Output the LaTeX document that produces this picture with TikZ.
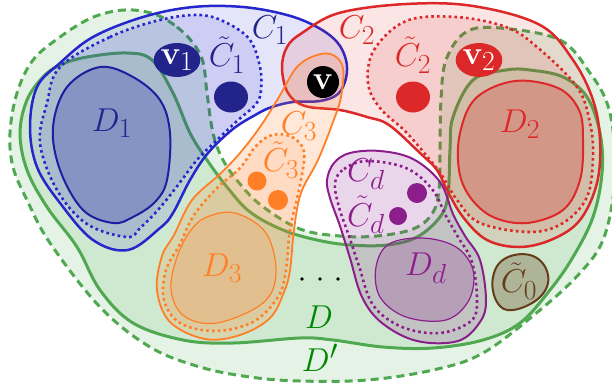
\documentclass[tikz,border=0pt]{standalone}
\usepackage{graphicx}
\usetikzlibrary{shapes.geometric}
\definecolor{gline}{RGB}{80,168,80}
\definecolor{gfill}{RGB}{76,175,80}
\definecolor{gtext}{RGB}{0,135,0}
\definecolor{cblue}{RGB}{38,38,205}
\definecolor{dblue}{RGB}{30,30,160}
\definecolor{navy}{RGB}{35,35,140}
\definecolor{cred}{RGB}{220,40,40}
\definecolor{corange}{RGB}{255,127,39}
\definecolor{cpurple}{RGB}{140,30,140}
\definecolor{cbrown}{RGB}{100,60,25}
\newcommand{\biglab}[1]{\scalebox{1.33}{\Huge$#1$}}
\tikzset{
  dprimestyle/.style={draw=gline, fill=gfill, fill opacity=0.15, line width=3pt, dash pattern=on 8pt off 5pt},
  dstyle/.style={draw=gline, fill=gfill, fill opacity=0.15, line width=3pt},
  cset/.style={draw=#1, fill=#1, fill opacity=0.12, line width=2.5pt},
  ctil/.style={draw=#1, fill=#1, fill opacity=0.12, line width=2.6pt, dash pattern=on 2.6pt off 3.2pt},
  ctilline/.style={draw=#1, line width=2.6pt, dash pattern=on 2.6pt off 3.2pt},
  dset/.style={draw=#1, fill=#1, fill opacity=0.25, line width=2pt},
  lab/.style={inner sep=0pt, anchor=center},
  vnode/.style={ellipse, inner sep=0pt, text=white, minimum width=40pt, minimum height=34pt},
  blobdot/.style={ellipse, inner sep=0pt, minimum width=34pt, minimum height=31pt},
  smalldot/.style={circle, inner sep=0pt, minimum size=#1},
}
\begin{document}
\begin{tikzpicture}[x=1pt,y=-1pt,line join=round]
\clip (0,0) rectangle (612,389);
% D'
\path[dprimestyle] plot[smooth cycle,tension=0.6] coordinates {
(157,15) (177,27) (193,43) (203,62) (207,93) (213,133) (223,160) (240,184) (262,206) (300,229) (340,236) (377,236) (413,229) (432,214) (439,190) (440,150) (441,100) (446,60) (466,32) (500,28) (560,40) (590,73) (607,103) (614,140) (614,190) (603,240) (580,273) (540,310) (483,353) (433,370) (367,380) (300,381) (250,377) (200,367) (150,347) (100,307) (50,243) (27,200) (13,167) (10,133) (17,93) (33,60) (60,37) (87,20) (110,12) (133,10)};
% D
\path[dstyle] plot[smooth cycle,tension=0.6] coordinates {
(127,53) (152,60) (173,93) (190,133) (207,160) (227,187) (250,212) (283,230) (317,240) (350,245) (387,245) (417,237) (440,217) (448,195) (450,150) (453,117) (473,80) (506,70) (530,70) (563,77) (587,97) (600,133) (602,173) (593,217) (573,257) (550,290) (520,323) (483,340) (433,348) (383,347) (333,340) (300,338) (233,343) (183,340) (133,323) (100,290) (77,247) (47,207) (27,170) (20,133) (27,100) (43,77) (60,65) (87,57)};
% C0 tilde
\path[draw=cbrown, fill=cbrown, fill opacity=0.3, line width=2pt] plot[smooth cycle,tension=0.7] coordinates {
(493,277) (506,258) (533,256) (548,275) (540,297) (513,310) (497,302)};
% C1
\path[cset=cblue] plot[smooth cycle,tension=0.6] coordinates {
(60,63) (93,37) (143,17) (193,7) (243,7) (287,15) (317,27) (337,42) (346,60) (346,78) (338,94) (320,101) (293,102) (272,107) (257,114) (233,129) (208,153) (190,180) (173,213) (160,228) (128,250) (93,240) (60,203) (37,167) (30,127) (37,87)};
\path[ctil=cblue] plot[smooth cycle,tension=0.6] coordinates {
(60,67) (110,37) (160,20) (200,15) (227,23) (250,40) (260,67) (261,90) (256,104) (237,121) (217,140) (197,160) (178,185) (158,210) (140,228) (127,237) (87,224) (57,190) (40,143) (47,103)};
\path[dset=dblue] plot[smooth cycle,tension=0.6] coordinates {
(100,67) (133,77) (160,100) (170,133) (167,180) (155,202) (133,217) (113,223) (83,210) (60,170) (53,127) (67,87)};
% C2
\path[cset=cred] plot[smooth cycle,tension=0.6] coordinates {
(287,47) (302,33) (339,13) (406,4) (473,6) (540,25) (573,60) (593,100) (600,140) (597,183) (580,220) (553,239) (520,247) (487,240) (463,217) (447,190) (437,170) (420,153) (389,125) (367,117) (340,110) (305,106) (288,93) (282,68)};
\path[ctil=cred] plot[smooth cycle,tension=0.6] coordinates {
(368,83) (374,50) (406,21) (456,17) (506,27) (537,47) (577,87) (590,123) (593,157) (587,197) (563,223) (530,232) (480,223) (457,200) (443,177) (430,160) (406,132) (380,108)};
\path[dset=cred] plot[smooth cycle,tension=0.6] coordinates {
(459,170) (460,133) (476,98) (515,81) (558,88) (579,110) (583,140) (580,180) (563,210) (527,223) (493,217) (470,197)};
% C3
\path[draw=corange, fill=corange, fill opacity=0.18, line width=1.8pt] plot[smooth cycle,tension=0.6] coordinates {
(297,67) (317,55) (333,55) (343,68) (341,97) (333,122) (318,160) (301,193) (294,230) (290,270) (284,292) (270,318) (240,335) (205,339) (170,322) (157,290) (162,256) (174,235) (192,200) (220,174) (240,153) (260,127) (279,97)};
\path[draw=corange, fill=corange, fill opacity=0.12, line width=2.6pt, dash pattern=on 2.6pt off 3.2pt] plot[smooth cycle,tension=0.6] coordinates {
(272,135) (292,137) (304,152) (300,185) (290,230) (286,270) (278,297) (253,322) (215,331) (180,323) (164,300) (166,270) (180,244) (194,215) (217,188) (240,168) (256,146)};
\path[draw=corange, fill=corange, fill opacity=0.15, line width=1.2pt] plot[smooth cycle,tension=0.6] coordinates {
(207,217) (235,213) (266,233) (276,273) (263,303) (217,323) (184,316) (171,290) (177,257) (191,230)};
% Cd
\path[draw=cpurple, fill=cpurple, fill opacity=0.18, line width=2pt] plot[smooth cycle,tension=0.6] coordinates {
(327,180) (334,163) (350,153) (380,151) (413,159) (440,182) (453,214) (465,236) (480,260) (486,300) (480,322) (458,341) (417,341) (382,323) (362,297) (350,258) (340,226) (330,198)};
\path[ctilline=cpurple] plot[smooth cycle,tension=0.6] coordinates {
(335,183) (344,169) (367,161) (406,168) (432,189) (446,216) (458,237) (472,262) (477,300) (471,321) (440,333) (402,327) (373,305) (359,266) (349,236) (339,207)};
\path[draw=cpurple, fill=cpurple, fill opacity=0.22, line width=1.2pt] plot[smooth cycle,tension=0.6] coordinates {
(376,267) (389,244) (423,238) (456,247) (473,270) (469,300) (446,320) (406,317) (380,297)};
% dots
\node[blobdot, fill=navy] (b1) at (231,97) {};
\node[blobdot, fill=cred] (b2) at (413,97) {};
\node[smalldot=19pt, fill=corange] (o1) at (257,181) {};
\node[smalldot=20pt, fill=corange] (o2) at (278,200) {};
\node[smalldot=20pt, fill=cpurple] (p1) at (417,193) {};
\node[smalldot=18pt, fill=cpurple] (p2) at (398,216) {};
\fill (302,279) circle (1.8) (320,279) circle (1.8) (338,279) circle (1.8);
% vertex nodes
\node[vnode, fill=navy] (v1) at (177,60) {\biglab{\mathbf{v}_1}};
\node[vnode, fill=cred] (v2) at (479,60) {\biglab{\mathbf{v}_2}};
\node[circle, fill=black, inner sep=0pt, minimum size=32pt, text=white] (v) at (323,82) {\biglab{\mathbf{v}}};
% labels
\node[lab, text=navy] (lC1) at (270,30) {\biglab{C_1}};
\node[lab, text=navy] (lCt1) at (227,55) {\biglab{\tilde{C}_1}};
\node[lab, text=navy] (lD1) at (112,123) {\biglab{D_1}};
\node[lab, text=cred] (lC2) at (357,30) {\biglab{C_2}};
\node[lab, text=cred] (lCt2) at (413,55) {\biglab{\tilde{C}_2}};
\node[lab, text=cred] (lD2) at (520,124) {\biglab{D_2}};
\node[lab, text=corange] (lC3) at (299,126) {\biglab{C_3}};
\node[lab, text=corange] (lCt3) at (281,160) {\biglab{\tilde{C}_3}};
\node[lab, text=corange] (lD3) at (222,268) {\biglab{D_3}};
\node[lab, text=cpurple] (lCd) at (366,174) {\biglab{C_d}};
\node[lab, text=cpurple] (lCtd) at (366,215) {\biglab{\tilde{C}_d}};
\node[lab, text=cpurple] (lDd) at (426,268) {\biglab{D_d}};
\node[lab, text=cbrown] (lC0) at (519,281) {\biglab{\tilde{C}_0}};
\node[lab, text=gtext] (lD) at (319,317) {\biglab{D}};
\node[lab, text=gtext] (lDp) at (320,358) {\biglab{D'}};
\end{tikzpicture}
\end{document}
